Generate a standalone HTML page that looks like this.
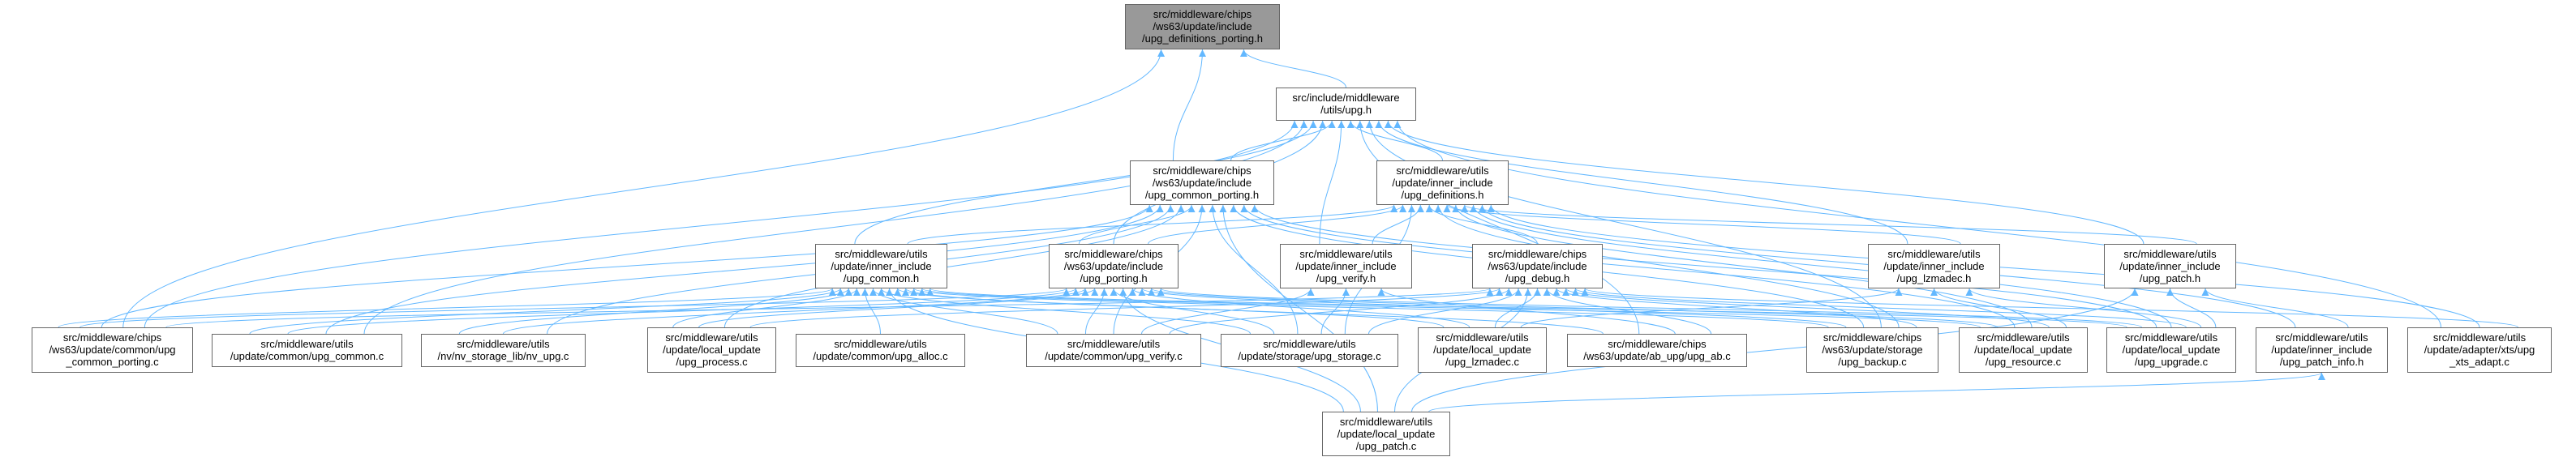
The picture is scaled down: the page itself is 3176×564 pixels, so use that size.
<!DOCTYPE html>
<html><head><meta charset="utf-8"><style>
html,body{margin:0;padding:0;background:#fff;}
#c{position:relative;width:3176px;height:564px;overflow:hidden;}
svg{position:absolute;left:0;top:0;}
.n{position:absolute;box-sizing:border-box;border:1px solid #666;background:#fff;font-family:"Liberation Sans",sans-serif;font-size:13px;line-height:15px;color:#000;text-align:center;padding-top:4px;white-space:nowrap;}
.g{background:#999;}
</style></head><body><div id="c">
<svg id="s" width="3176" height="564" xmlns="http://www.w3.org/2000/svg">
<defs><marker id="a" viewBox="0 0 10 10" refX="10" refY="5" markerWidth="11" markerHeight="9" markerUnits="userSpaceOnUse" orient="auto"><path d="M0,0 L10,5 L0,10 z" fill="#63b8ff"/></marker></defs>
<g id="e" fill="none" stroke="#63b8ff" stroke-width="1"></g>
</svg>
<div class="n g" style="left:1387px;top:5px;width:191px;height:56px">src/middleware/chips<br>/ws63/update/include<br>/upg_definitions_porting.h</div>
<div class="n" style="left:1573px;top:108px;width:173px;height:41px">src/include/middleware<br>/utils/upg.h</div>
<div class="n" style="left:1393px;top:198px;width:178px;height:55px">src/middleware/chips<br>/ws63/update/include<br>/upg_common_porting.h</div>
<div class="n" style="left:1697px;top:198px;width:163px;height:55px">src/middleware/utils<br>/update/inner_include<br>/upg_definitions.h</div>
<div class="n" style="left:1005px;top:301px;width:163px;height:55px">src/middleware/utils<br>/update/inner_include<br>/upg_common.h</div>
<div class="n" style="left:1293px;top:301px;width:160px;height:55px">src/middleware/chips<br>/ws63/update/include<br>/upg_porting.h</div>
<div class="n" style="left:1578px;top:301px;width:163px;height:55px">src/middleware/utils<br>/update/inner_include<br>/upg_verify.h</div>
<div class="n" style="left:1815px;top:301px;width:161px;height:55px">src/middleware/chips<br>/ws63/update/include<br>/upg_debug.h</div>
<div class="n" style="left:2303px;top:301px;width:163px;height:55px">src/middleware/utils<br>/update/inner_include<br>/upg_lzmadec.h</div>
<div class="n" style="left:2594px;top:301px;width:163px;height:55px">src/middleware/utils<br>/update/inner_include<br>/upg_patch.h</div>
<div class="n" style="left:39px;top:404px;width:199px;height:56px">src/middleware/chips<br>/ws63/update/common/upg<br>_common_porting.c</div>
<div class="n" style="left:261px;top:412px;width:235px;height:41px">src/middleware/utils<br>/update/common/upg_common.c</div>
<div class="n" style="left:519px;top:412px;width:203px;height:41px">src/middleware/utils<br>/nv/nv_storage_lib/nv_upg.c</div>
<div class="n" style="left:798px;top:404px;width:159px;height:56px">src/middleware/utils<br>/update/local_update<br>/upg_process.c</div>
<div class="n" style="left:981px;top:412px;width:209px;height:41px">src/middleware/utils<br>/update/common/upg_alloc.c</div>
<div class="n" style="left:1265px;top:412px;width:216px;height:41px">src/middleware/utils<br>/update/common/upg_verify.c</div>
<div class="n" style="left:1505px;top:412px;width:219px;height:41px">src/middleware/utils<br>/update/storage/upg_storage.c</div>
<div class="n" style="left:1748px;top:404px;width:159px;height:56px">src/middleware/utils<br>/update/local_update<br>/upg_lzmadec.c</div>
<div class="n" style="left:1932px;top:412px;width:222px;height:41px">src/middleware/chips<br>/ws63/update/ab_upg/upg_ab.c</div>
<div class="n" style="left:2227px;top:404px;width:163px;height:56px">src/middleware/chips<br>/ws63/update/storage<br>/upg_backup.c</div>
<div class="n" style="left:2415px;top:404px;width:159px;height:56px">src/middleware/utils<br>/update/local_update<br>/upg_resource.c</div>
<div class="n" style="left:2597px;top:404px;width:160px;height:56px">src/middleware/utils<br>/update/local_update<br>/upg_upgrade.c</div>
<div class="n" style="left:2781px;top:404px;width:163px;height:56px">src/middleware/utils<br>/update/inner_include<br>/upg_patch_info.h</div>
<div class="n" style="left:2968px;top:404px;width:178px;height:56px">src/middleware/utils<br>/update/adapter/xts/upg<br>_xts_adapt.c</div>
<div class="n" style="left:1630px;top:508px;width:158px;height:55px">src/middleware/utils<br>/update/local_update<br>/upg_patch.c</div>
</div>
<script>
var N={
dp:[1387,5,1578,61],uh:[1573,108,1746,149],cph:[1393,198,1571,253],dh:[1697,198,1860,253],
ch:[1005,301,1168,356],ph:[1293,301,1453,356],vh:[1578,301,1741,356],dbh:[1815,301,1976,356],lh:[2303,301,2466,356],pth:[2594,301,2757,356],
cpc:[39,404,238,460],cc:[261,412,496,453],nv:[519,412,722,453],pr:[798,404,957,460],al:[981,412,1190,453],vc:[1265,412,1481,453],st:[1505,412,1724,453],
lc:[1748,404,1907,460],ab:[1932,412,2154,453],bk:[2227,404,2390,460],rs:[2415,404,2574,460],ug:[2597,404,2757,460],pi:[2781,404,2944,460],xt:[2968,404,3146,460],pc:[1630,508,1788,563]};
var E=[["uh","dp"],["cph","dp"],["cpc","dp"],
["cph","uh"],["dh","uh"],["ch","uh"],["ph","uh"],["vh","uh"],["lh","uh"],["pth","uh"],["xt","uh"],["cc","uh"],["ab","uh"],["bk","uh"],["cpc","uh"],
["ph","cph"],["ph","dh"],["ch","dh"],["dbh","dh"],["lh","dh"],["pth","dh"],["vh","dh"],["st","dh"],["ug","dh"],["rs","dh"],["bk","dh"],["pi","dh"],["xt","dh"],
["cpc","cph"],["cc","cph"],["nv","cph"],["pr","cph"],["vc","cph"],["st","cph"],["pc","cph"],["ug","cph"],["rs","cph"],["bk","cph"],
["cpc","ch"],["cc","ch"],["nv","ch"],["pr","ch"],["al","ch"],["vc","ch"],["st","ch"],["lc","ch"],["ab","ch"],["bk","ch"],["rs","ch"],["ug","ch"],["pc","ch"],
["cpc","ph"],["cc","ph"],["nv","ph"],["pr","ph"],["vc","ph"],["st","ph"],["lc","ph"],["bk","ph"],["rs","ph"],["ug","ph"],["pc","ph"],
["cpc","dbh"],["pr","dbh"],["vc","dbh"],["st","dbh"],["lc","dbh"],["ab","dbh"],["bk","dbh"],["rs","dbh"],["ug","dbh"],["pc","dbh"],["xt","dbh"],
["vc","vh"],["st","vh"],["ab","vh"],["lc","lh"],["rs","lh"],["ug","lh"],["ug","pth"],["pi","pth"],["pc","pth"],["pc","pi"]];
function cx(n){return (N[n][0]+N[n][2])/2;}
var inc={},out={};
E.forEach(function(e){(inc[e[1]]=inc[e[1]]||[]).push(e);(out[e[0]]=out[e[0]]||[]).push(e);});
var tp={},sp={};
for(var t in inc){var l=inc[t].slice().sort(function(a,b){return cx(a[0])-cx(b[0]);});var b=N[t],w=b[2]-b[0];l.forEach(function(e,i){tp[e[0]+">"+e[1]]=b[0]+w*0.1+w*0.8*(i+0.5)/l.length;});}
for(var s in out){var l=out[s].slice().sort(function(a,b){return cx(a[1])-cx(b[1]);});var b=N[s],w=b[2]-b[0];l.forEach(function(e,i){sp[e[0]+">"+e[1]]=b[0]+w*0.1+w*0.8*(i+0.5)/l.length;});}
var g=document.getElementById("e"),h="";
E.forEach(function(e){var k=e[0]+">"+e[1],S=N[e[0]],T=N[e[1]];var sx=sp[k],sy=S[1],tx=tp[k],ty=T[3];var dy=sy-ty;
h+='<path d="M'+sx+','+sy+' C'+sx+','+(sy-dy*0.45)+' '+tx+','+(ty+dy*0.45)+' '+tx+','+ty+'" marker-end="url(#a)"/>';});
g.innerHTML=h;
</script>
</body></html>
